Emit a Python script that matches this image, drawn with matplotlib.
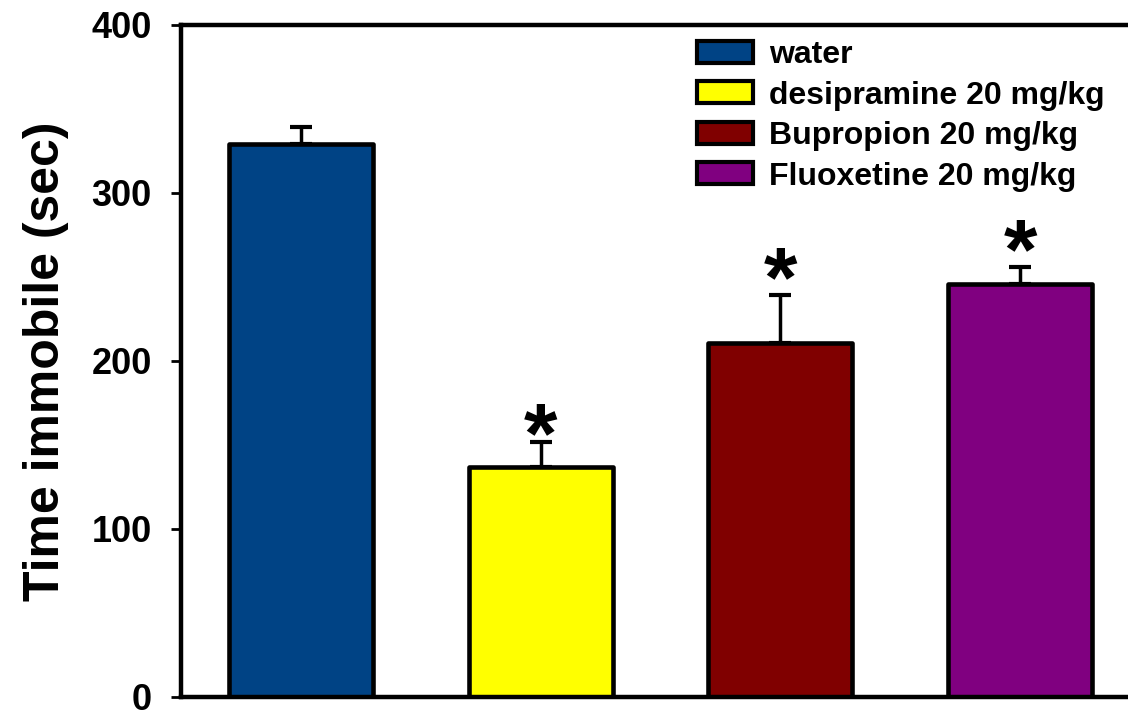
import matplotlib.pyplot as plt
import numpy as np

plt.rcParams['font.family'] = ['Liberation Sans', 'DejaVu Sans']
plt.rcParams['font.weight'] = 'bold'

# data
groups = ['water', 'desipramine 20 mg/kg', 'Bupropion 20 mg/kg', 'Fluoxetine 20 mg/kg']
means = [329, 137, 211, 246]
sems = [10, 14.5, 28, 10]
signif = [False, True, True, True]
colors = ['#004385', '#ffff00', '#800000', '#800080']

fig = plt.figure(figsize=(11.28, 7.1), dpi=100)
ax = fig.add_axes([181/1128, 13/710, 959/1128, 672/710])

pos = np.arange(len(groups))
ax.errorbar(pos, means, yerr=[np.zeros(len(sems)), sems], fmt='none', ecolor='black',
            elinewidth=2.5, capsize=8, capthick=3, zorder=1)
bars = ax.bar(pos, means, width=0.6, color=colors, edgecolor='black', linewidth=3.3,
              label=groups, zorder=2)
for b in bars:
    b.set_joinstyle('round')

# significance stars
star_off = [0, -14, -7.5, -8]
for i in range(len(groups)):
    if signif[i]:
        ax.annotate('*', xy=(pos[i], means[i] + sems[i]), xytext=(0, star_off[i]),
                    textcoords='offset points', ha='center', va='baseline',
                    fontsize=62, fontweight='bold')

ax.set_xlim(-0.5, 3.5)
ax.set_ylim(0, 400)
ax.set_yticks([0, 100, 200, 300, 400])
ax.set_xticks([])
ax.tick_params(axis='y', direction='out', length=7, width=2, labelsize=26, pad=14)
for s in ['left', 'bottom', 'top']:
    ax.spines[s].set_linewidth(3.2)
ax.spines['right'].set_visible(False)
ax.set_ylabel('Time immobile (sec)', fontsize=36, fontweight='bold', labelpad=16)

leg = ax.legend(handles=list(bars), labels=groups, loc='upper left',
                bbox_to_anchor=(697/1128, 1 - 40/710), bbox_transform=fig.transFigure,
                frameon=False, fontsize=23, handlelength=1.75, handleheight=0.68,
                handletextpad=0.5, labelspacing=0.33, borderpad=0, borderaxespad=0)
for h in leg.legend_handles:
    h.set_linewidth(3)

fig.savefig('out.png', dpi=100)
